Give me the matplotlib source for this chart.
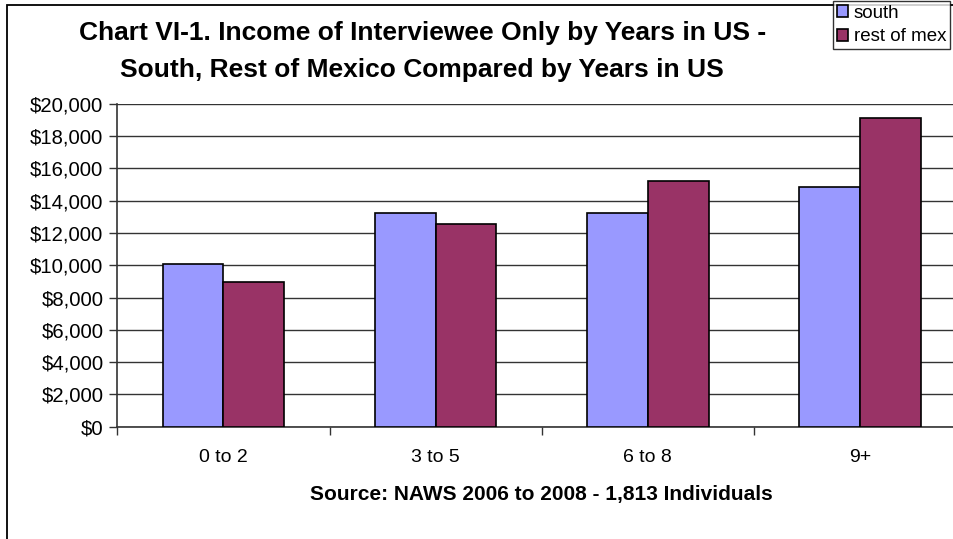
import matplotlib
matplotlib.use('Agg')
import matplotlib.pyplot as plt
import matplotlib.patches as patches
import numpy as np

# Data
categories = ['0 to 2', '3 to 5', '6 to 8', '9+']
south = [10060, 13230, 13260, 14830]
rest_of_mex = [8980, 12550, 15220, 19100]
y_ticks = [0, 2000, 4000, 6000, 8000, 10000, 12000, 14000, 16000, 18000, 20000]

plt.rcParams['font.family'] = ['Liberation Sans', 'DejaVu Sans']

fig = plt.figure(figsize=(9.54, 5.39), dpi=100)
ax = fig.add_axes([0.123, 0.2083, 0.8896, 0.5993])

x = np.arange(len(categories))
w = 0.287
ax.bar(x - w / 2, south, w, color='#9999FF', edgecolor='black', linewidth=1.2,
       label='south', zorder=3)
ax.bar(x + w / 2, rest_of_mex, w, color='#993366', edgecolor='black', linewidth=1.2,
       label='rest of mex', zorder=3)

ax.set_xlim(-0.5, len(categories) - 0.5)
ax.set_ylim(0, 20000)
ax.set_yticks(y_ticks)
ax.set_yticklabels(['${:,}'.format(v) for v in y_ticks], fontsize=14.6)
ax.yaxis.grid(True, color='#333333', linewidth=1.0, zorder=0)
ax.set_axisbelow(True)

ax.set_xticks(x)
ax.set_xticklabels(categories, fontsize=14)
ax.set_xticks(np.arange(-0.5, len(categories), 1.0), minor=True)
ax.tick_params(axis='x', which='major', length=0, pad=16)
ax.tick_params(axis='x', which='minor', length=6, width=1, direction='out', color='#333333')
ax.tick_params(axis='y', length=6, width=1, direction='out', color='#333333', pad=4)

for s in ['top', 'right']:
    ax.spines[s].set_visible(False)
for s in ['left', 'bottom']:
    ax.spines[s].set_color('#333333')
    ax.spines[s].set_linewidth(1.2)

ax.set_xlabel('Source: NAWS 2006 to 2008 - 1,813 Individuals', fontsize=15,
              fontweight='bold', labelpad=14)

fig.text(0.4425, 1 - 33 / 539, 'Chart VI-1. Income of Interviewee Only by Years in US -',
         ha='center', va='center', fontsize=19, fontweight='bold')
fig.text(0.4425, 1 - 70 / 539, 'South, Rest of Mexico Compared by Years in US',
         ha='center', va='center', fontsize=19, fontweight='bold')

# outer chart border (continues past the right and bottom edges)
fig.patches.append(patches.Rectangle((7.5 / 954, -0.1), 1.2, 1.1 - 4.7 / 539,
                                     transform=fig.transFigure, fill=False,
                                     edgecolor='black', linewidth=1.3))

leg = fig.legend(loc='upper right', bbox_to_anchor=(950 / 954, 1 - 1 / 539),
                 fontsize=13.5, frameon=True, fancybox=False, borderpad=0.2,
                 handlelength=0.6, handleheight=0.6, handletextpad=0.3,
                 labelspacing=0.35, borderaxespad=0)
leg.get_frame().set_edgecolor('black')
leg.get_frame().set_linewidth(1.0)

fig.savefig('out.png', dpi=100)
